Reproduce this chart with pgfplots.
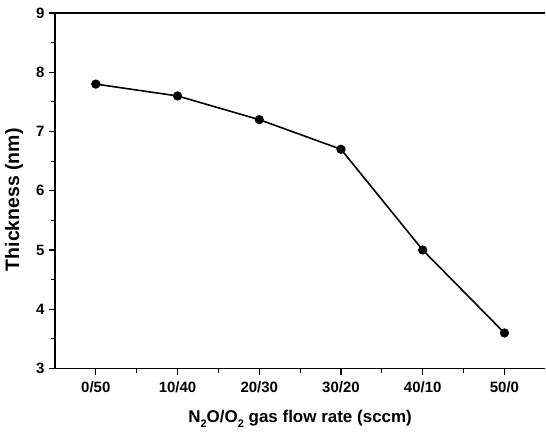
\documentclass[border=0pt]{standalone}
\usepackage{pgfplots}
\pgfplotsset{compat=1.18}
\usepackage{fontspec}
\setmainfont{Liberation Sans}
\newcommand{\sub}[1]{\raisebox{-0.55ex}{\fontsize{11}{11}\selectfont #1}}
\begin{document}
\begin{tikzpicture}[x=1pt,y=1pt]
\begin{axis}[
  name=ax,
  scale only axis,
  width=491pt, height=356pt,
  xmin=-0.5, xmax=5.5,
  ymin=3, ymax=9,
  xtick={0,1,2,3,4,5},
  xticklabels={0/50,10/40,20/30,30/20,40/10,50/0},
  ytick={3,4,5,6,7,8,9},
  minor x tick num=1,
  minor y tick num=1,
  tick align=outside,
  xtick pos=bottom, ytick pos=left,
  axis x line*=bottom, axis y line*=left,
  axis line style={line width=1.4pt, -},
  major tick length=6pt,
  minor tick length=4pt,
  every tick/.style={black, line width=1.2pt},
  tick label style={font=\fontsize{15}{17}\selectfont\bfseries},
  /pgf/number format/assume math mode=true,
  xticklabel style={yshift=-4pt},
  yticklabel style={xshift=-1pt},
  xlabel={N\sub{2}O/O\sub{2} gas flow rate (sccm)},
  ylabel={Thickness (nm)},
  xlabel style={font=\fontsize{17}{19}\selectfont\bfseries, yshift=-10pt},
  ylabel style={font=\fontsize{19.5}{21}\selectfont\bfseries, yshift=6pt, xshift=-9pt},
  clip=false,
]
\addplot[black, line width=1.6pt, mark=*, mark size=3.8pt, mark options={fill=black}]
  coordinates {(0,7.8) (1,7.6) (2,7.2) (3,6.7) (4,5.0) (5,3.6)};
\draw[line width=1.4pt] (rel axis cs:0,1) -- (rel axis cs:1,1);
\path (rel axis cs:0,0) ++(-55pt,-66pt) coordinate (bl);
\path (rel axis cs:1,1) ++(0pt,13pt) coordinate (tr);
\end{axis}
\path (bl) rectangle (tr);
\end{tikzpicture}
\end{document}
